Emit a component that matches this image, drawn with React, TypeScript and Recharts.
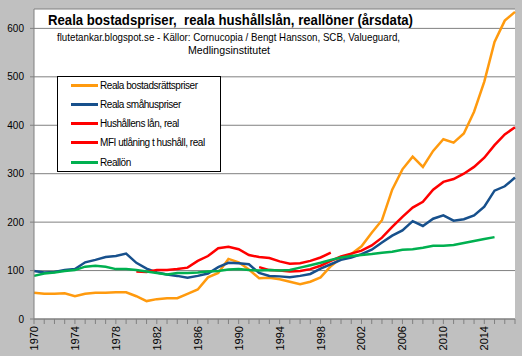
import React from 'react';
import { LineChart, Line, XAxis, YAxis, CartesianGrid, Legend } from 'recharts';

// Årsdata 1970–2017, index 1970 = 100 (ungefär)
const years = [
  1970, 1971, 1972, 1973, 1974, 1975, 1976, 1977, 1978, 1979,
  1980, 1981, 1982, 1983, 1984, 1985, 1986, 1987, 1988, 1989,
  1990, 1991, 1992, 1993, 1994, 1995, 1996, 1997, 1998, 1999,
  2000, 2001, 2002, 2003, 2004, 2005, 2006, 2007, 2008, 2009,
  2010, 2011, 2012, 2013, 2014, 2015, 2016, 2017,
];

const bostadsratt = [
  54, 52, 52, 53, 47, 52, 54, 54, 55, 55,
  47, 37, 41, 43, 43, 52, 61, 86, 95, 124,
  117, 102, 84, 85, 82, 77, 72, 77, 86, 109,
  126, 134, 150, 178, 204, 267, 309, 335, 314, 347,
  371, 364, 383, 428, 490, 572, 616, 634,
];

const smahus = [
  99, 96, 97, 101, 103, 117, 122, 128, 130, 135,
  116, 104, 96, 92, 89, 85, 89, 94, 107, 116,
  115, 113, 95, 89, 88, 86, 89, 93, 104, 113,
  122, 127, 134, 143, 158, 172, 183, 202, 192, 207,
  214, 203, 206, 214, 232, 265, 274, 292,
];

const hushallLan = [
  null, null, null, null, null, null, null, null, null, null,
  98, 97, 101, 101, 103, 106, 120, 130, 146, 149,
  144, 132, 128, 126, 119, 114, 115, 120, 127, 137,
  null, null, null, null, null, null, null, null, null, null,
  null, null, null, null, null, null, null, null,
];

const mfiUtlaning = [
  null, null, null, null, null, null, null, null, null, null,
  null, null, null, null, null, null, null, null, null, null,
  null, null, 107, 101, 100, 98, 99, 103, 110, 120,
  129, 135, 141, 152, 168, 190, 211, 230, 242, 267,
  283, 289, 300, 314, 333, 359, 381, 396,
];

const reallon = [
  89, 94, 96, 99, 101, 108, 110, 108, 103, 103,
  101, 98, 95, 92, 95, 95, 96, 98, 99, 102,
  103, 101, 100, 101, 100, 101, 106, 111, 116, 122,
  127, 130, 132, 134, 137, 139, 143, 144, 147, 151,
  151, 153, 157, 161, 165, 169, null, null,
];

const seriesNames = [
  'Reala bostadsrättspriser',
  'Reala småhuspriser',
  'Hushållens lån, real',
  'MFI utlåning t hushåll, real',
  'Reallön',
];

const yTicks = [0, 100, 200, 300, 400, 500, 600];

const data = years.map((year, i) => ({
  year,
  bostadsratt: bostadsratt[i],
  smahus: smahus[i],
  hushallLan: hushallLan[i],
  mfiUtlaning: mfiUtlaning[i],
  reallon: reallon[i],
}));

const ORANGE = '#ff9a0e';
const BLUE = '#17508c';
const RED = '#ff0000';
const GREEN = '#00b050';
const FONT = '"Liberation Sans", Arial, sans-serif';

const YearTick = (props: any) => {
  const { x, y, payload } = props;
  const showLabel = (payload.value - 1970) % 4 === 0;
  return (
    <g>
      <line x1={x} y1={y} x2={x} y2={y + 5} stroke="#808080" strokeWidth={1} />
      {showLabel && (
        <text
          x={x + 4}
          y={y + 7}
          transform={`rotate(-90, ${x + 4}, ${y + 7})`}
          textAnchor="end"
          fontSize={11}
          fontFamily={FONT}
          fill="#000"
        >
          {payload.value}
        </text>
      )}
    </g>
  );
};

const renderLegend = (props: any) => {
  // keep the series order, not alphabetical
  const items = [...(props.payload || [])].sort(
    (a: any, b: any) => seriesNames.indexOf(a.value) - seriesNames.indexOf(b.value)
  );
  return (
    <div
      style={{
        width: 164,
        height: 96,
        boxSizing: 'border-box',
        border: '1px solid #000',
        background: '#fff',
        position: 'relative',
        fontFamily: FONT,
      }}
    >
      {items.map((item: any, i: number) => (
        <div
          key={i}
          style={{
            position: 'absolute',
            left: 13,
            top: 8 + i * 19.3 - 7,
            height: 14,
            display: 'flex',
            alignItems: 'center',
            whiteSpace: 'nowrap',
          }}
        >
          <span style={{ display: 'inline-block', width: 27, height: 3, background: item.color }} />
          <span style={{ marginLeft: 2, fontSize: 10, letterSpacing: -0.45, color: '#000' }}>
            {item.value}
          </span>
        </div>
      ))}
    </div>
  );
};

export default function App() {
  return (
    <div style={{ position: 'absolute', left: 0, top: 0, width: 522, height: 356, background: '#c0c0c0' }}>
      <LineChart
        width={522}
        height={356}
        data={data}
        margin={{ top: 9, right: 7, left: 0, bottom: 0 }}
      >
        <CartesianGrid fill="#ffffff" stroke="#808080" vertical={false} />
        <XAxis
          dataKey="year"
          type="number"
          domain={[1970, 2017]}
          ticks={years}
          interval={0}
          height={37}
          tickSize={0}
          tickMargin={0}
          tickLine={false}
          stroke="#808080"
          tick={<YearTick />}
        />
        <YAxis
          domain={[0, 640]}
          ticks={yTicks}
          width={34}
          tickSize={4}
          tickMargin={6}
          stroke="#808080"
          tick={{ fill: '#000', fontSize: 10, fontFamily: FONT }}
        />
        <Legend
          layout="vertical"
          align="center"
          verticalAlign="middle"
          content={renderLegend}
          wrapperStyle={{ left: 57, top: 76, width: 164, height: 96 }}
        />
        <Line type="linear" dataKey="bostadsratt" name={seriesNames[0]} stroke={ORANGE} strokeWidth={2.5} dot={false} connectNulls={false} isAnimationActive={false} />
        <Line type="linear" dataKey="smahus" name={seriesNames[1]} stroke={BLUE} strokeWidth={2.5} dot={false} connectNulls={false} isAnimationActive={false} />
        <Line type="linear" dataKey="hushallLan" name={seriesNames[2]} stroke={RED} strokeWidth={2.5} dot={false} connectNulls={false} isAnimationActive={false} />
        <Line type="linear" dataKey="mfiUtlaning" name={seriesNames[3]} stroke={RED} strokeWidth={2.5} dot={false} connectNulls={false} isAnimationActive={false} />
        <Line type="linear" dataKey="reallon" name={seriesNames[4]} stroke={GREEN} strokeWidth={2.5} dot={false} connectNulls={false} isAnimationActive={false} />
        <text
          x={48}
          y={25}
          fontSize={14}
          fontWeight="bold"
          fontFamily={FONT}
          fill="#000"
          textLength={365}
          lengthAdjust="spacingAndGlyphs"
          style={{ whiteSpace: 'pre' }}
        >
          {'Reala bostadspriser,  reala hushållslån, reallöner (årsdata)'}
        </text>
        <text
          x={57}
          y={41}
          fontSize={10.5}
          fontFamily={FONT}
          fill="#000"
          textLength={343}
          lengthAdjust="spacingAndGlyphs"
        >
          flutetankar.blogspot.se - Källor: Cornucopia / Bengt Hansson, SCB, Valueguard,
        </text>
        <text
          x={229}
          y={54}
          fontSize={10.5}
          fontFamily={FONT}
          fill="#000"
          textAnchor="middle"
          textLength={82}
          lengthAdjust="spacingAndGlyphs"
        >
          Medlingsinstitutet
        </text>
      </LineChart>
    </div>
  );
}
